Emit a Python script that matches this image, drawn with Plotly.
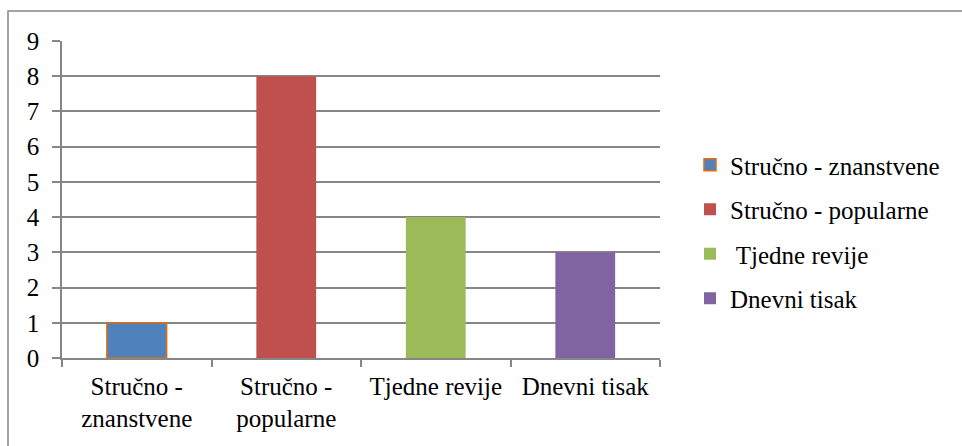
import plotly.graph_objects as go

categories = ["Stručno -<br>znanstvene", "Stručno -<br>popularne", "Tjedne revije", "Dnevni tisak"]
legend_names = ["Stručno - znanstvene", "Stručno - popularne", " Tjedne revije", "Dnevni tisak"]
values = [1, 8, 4, 3]
colors = ["#4F81BD", "#C0504D", "#9BBB59", "#8064A2"]
outline_colors = ["#E46C0A", "#C0504D", "#9BBB59", "#8064A2"]
outline_widths = [1.5, 0, 0, 0]
y_ticks = list(range(0, 10))

fig = go.Figure()
for i in range(len(categories)):
    fig.add_trace(go.Bar(
        x=[categories[i]], y=[values[i]], name=legend_names[i],
        marker=dict(color=colors[i], line=dict(color=outline_colors[i], width=outline_widths[i])),
        width=0.4, legendgroup=f"g{i}",
    ))

L, R, T, B = 62, 302, 41, 88
W, H = 962, 446
pw, ph = W - L - R, H - T - B
FONT = "Liberation Serif"

fig.update_layout(
    width=W, height=H,
    margin=dict(l=L, r=R, t=T, b=B, pad=0),
    barmode="overlay",
    plot_bgcolor="white", paper_bgcolor="white",
    font=dict(family=FONT, size=25, color="black"),
    showlegend=True,
    legend=dict(x=(690 - L) / pw, y=(358 - 231.5) / ph, xanchor="left", yanchor="middle",
                font=dict(family=FONT, size=25, color="black"), tracegroupgap=9, itemwidth=30,
                bgcolor="rgba(0,0,0,0)"),
    xaxis=dict(
        type="category", categoryorder="array", categoryarray=categories,
        range=[-0.5, 3.5], tickson="boundaries", ticks="outside", ticklen=7,
        tickcolor="#868686", tickwidth=1.5, ticklabelstandoff=5,
        showline=True, linecolor="#868686", linewidth=1.5,
        showgrid=False, tickfont=dict(family=FONT, size=25, color="black"), fixedrange=True,
    ),
    yaxis=dict(
        range=[0, 9], tickvals=y_ticks, ticks="outside", ticklen=8,
        tickcolor="#868686", tickwidth=1.5, ticklabelstandoff=8,
        showline=True, linecolor="#868686", linewidth=1.5,
        showgrid=True, gridcolor="#868686", gridwidth=1.5,
        zeroline=False, tickfont=dict(family=FONT, size=25, color="black"), fixedrange=True,
    ),
    shapes=[dict(
        type="rect", xref="paper", yref="paper",
        x0=(8 - L) / pw, x1=(970 - L) / pw,
        y0=(H - B - 460) / ph, y1=(H - B - 11) / ph,
        line=dict(color="#868686", width=1.5), fillcolor="rgba(0,0,0,0)", layer="below",
    )],
)

fig.write_html("out.html", config={"displayModeBar": False},
               post_script="document.body.style.margin='0px';")
